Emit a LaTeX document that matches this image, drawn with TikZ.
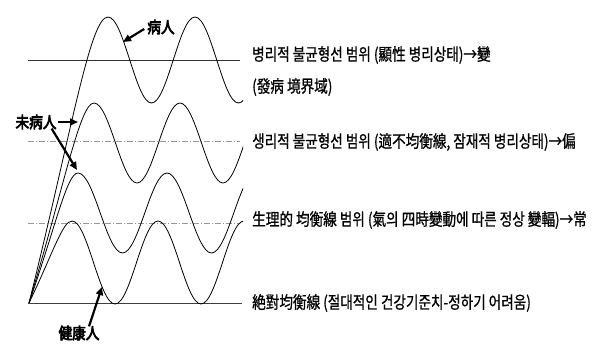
\documentclass[tikz,border=0pt]{standalone}
\usepackage{fontspec}
\usetikzlibrary{arrows.meta}
\newfontfamily\kr[FakeStretch=0.8,FakeBold=0.8]{Noto Sans CJK KR}
\newfontfamily\krb[FakeStretch=0.85,FakeBold=4]{Noto Sans CJK KR}
\begin{document}
\begin{tikzpicture}[x=1pt,y=-1pt,
  wave/.style={line width=0.8pt,black},
  solidref/.style={line width=0.7pt,black!80},
  dashref/.style={line width=0.6pt,black!40,dash pattern=on 6pt off 2pt on 1pt off 2pt},
  baseref/.style={line width=1pt,black!75},
  txt/.style={anchor=west,inner sep=0pt,font=\kr\fontsize{17}{17}\selectfont},
  lab/.style={inner sep=0pt,font=\krb\fontsize{16}{16}\selectfont},
  bigarrow/.style={line width=2.2pt,-{Triangle[length=8pt,width=7pt]}}]
\useasboundingbox (0,0) rectangle (600,345);
\fill[white] (0,0) rectangle (600,345);

\coordinate (O) at (29,303);
% reference lines
\coordinate (l1a) at (28,60);  \coordinate (l1b) at (240,60);
\coordinate (l2a) at (28,141); \coordinate (l2b) at (240,141);
\coordinate (l3a) at (28,223); \coordinate (l3b) at (240,223);
\coordinate (l4a) at (28,303); \coordinate (l4b) at (242,303);
\draw[solidref] (l1a) -- (l1b);
\draw[dashref] (l2a) -- (l2b);
\draw[dashref] (l3a) -- (l3b);
\draw[baseref] (l4a) -- (l4b);

% waves
\begin{scope}
\clip (0,0) rectangle (243,345);
% wave 1 (center 60, amp 43)
\draw[wave] (O) .. controls (72,130) and (90,17) .. (108,17)
  cos ++(21.75,43) sin ++(21.75,43) cos ++(21.75,-43) sin ++(21.75,-43)
  cos ++(21.75,43) sin ++(21.75,43) cos ++(21.75,-43) sin ++(21.75,-43);
% wave 2 (center 143, amp 40)
\draw[wave] (O) .. controls (65,183) and (80,103) .. (94,103)
  cos ++(21.5,40) sin ++(21.5,40) cos ++(21.5,-40) sin ++(21.5,-40)
  cos ++(21.5,40) sin ++(21.5,40) cos ++(21.5,-40) sin ++(21.5,-40);
% wave 3 (center 213, amp 40)
\draw[wave] (O) .. controls (56,225) and (67,173) .. (78,173)
  cos ++(22.25,40) sin ++(22.25,40) cos ++(22.25,-40) sin ++(22.25,-40)
  cos ++(22.25,40) sin ++(22.25,40) cos ++(22.25,-40) sin ++(22.25,-40);
% wave 4 (center 262.5, amp 41.5)
\draw[wave] (O) .. controls (52.6,254) and (62.5,221) .. (72,221)
  cos ++(21.5,41.5) sin ++(21.5,41.5) cos ++(21.5,-41.5) sin ++(21.5,-41.5)
  cos ++(21.5,41.5) sin ++(21.5,41.5) cos ++(21.5,-41.5) sin ++(21.5,-41.5);
\end{scope}

% labels and arrows
\node[lab] (bing) at (161,27) {病人};
\node[lab] (weibing) at (36,122) {未病人};
\node[lab] (jian) at (79,333) {健康人};
\coordinate (tipA) at (123,42);
\coordinate (tipB) at (78,122);
\coordinate (tipC) at (77,170);
\coordinate (tipD) at (102,287);
\draw[bigarrow] ([xshift=-3pt,yshift=-2pt]bing.west) -- (tipA);
\draw[bigarrow] ([xshift=1pt]weibing.east) -- (tipB);
\draw[bigarrow] ([xshift=-5pt,yshift=1pt]weibing.south east) -- (tipC);
\draw[bigarrow] ([xshift=10pt,yshift=-1pt]jian.north) -- (tipD);

% right texts
\node[txt] (t1) at (252,55) {병리적 불균형선 범위 (顯性 병리상태)→變};
\node[txt] (t2) at (252,87) {(發病 境界域)};
\node[txt] (t3) at (252,142) {생리적 불균형선 범위 (適不均衡線, 잠재적 병리상태)→偏};
\node[txt] (t4) at (252,220) {生理的 均衡線 범위 (氣의 四時變動에 따른 정상 變輻)→常};
\node[txt] (t5) at (252,303) {絶對均衡線 (절대적인 건강기준치-정하기 어려움)};
\end{tikzpicture}
\end{document}
